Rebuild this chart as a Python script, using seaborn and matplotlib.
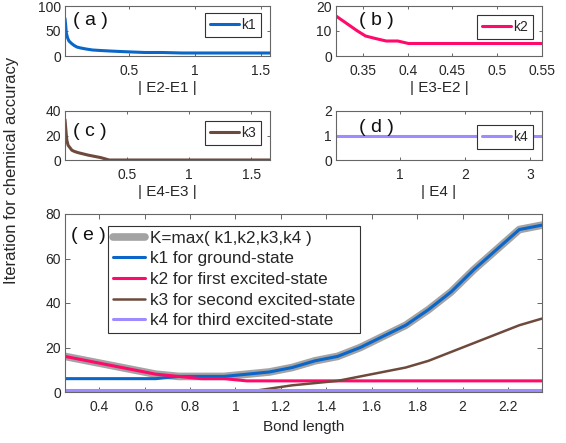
import numpy as np
import pandas as pd
import matplotlib
matplotlib.use("Agg")
import matplotlib.pyplot as plt
import seaborn as sns

# ---- panel (e): iterations versus bond length ----
bond = [0.25, 0.35, 0.45, 0.55, 0.65, 0.75, 0.85, 0.95, 1.05, 1.15, 1.25,
        1.35, 1.45, 1.55, 1.65, 1.75, 1.85, 1.95, 2.05, 2.15, 2.25, 2.35]
k1 = [6, 6, 6, 6, 6, 7, 7, 7, 8, 9, 11, 14, 16, 20, 25, 30, 37, 45, 55, 64, 73, 75]
k2 = [16, 14, 12, 10, 8, 7, 6, 6, 5, 5, 5, 5, 5, 5, 5, 5, 5, 5, 5, 5, 5, 5]
k3 = [0, 0, 0, 0, 0, 0, 0, 0, 0, 1.5, 3, 4, 5, 7, 9, 11, 14, 18, 22, 26, 30, 33]
k4 = [1] * 22
K = list(np.maximum.reduce([k1, k2, k3, k4]))

# ---- panel (a): k1 versus |E2-E1| ----
gap21 = [0.01, 0.015, 0.02, 0.03, 0.04, 0.06, 0.08, 0.10, 0.13, 0.17, 0.22,
         0.28, 0.35, 0.43, 0.52, 0.62, 0.75, 0.90, 1.10, 1.30, 1.57]
k1_gap = [75, 62, 46, 36, 30, 25, 21, 18, 16, 14, 12, 11, 10, 9, 8, 7, 7, 6, 6, 6, 6]

# ---- panel (b): k2 versus |E3-E2| ----
gap32 = [0.320, 0.328, 0.336, 0.344, 0.353, 0.364, 0.376, 0.389, 0.401, 0.45, 0.50, 0.55]
k2_gap = [16, 14, 12, 10, 8, 7, 6, 6, 5, 5, 5, 5]

# ---- panel (c): k3 versus |E4-E3| ----
gap43 = [0.005, 0.01, 0.015, 0.02, 0.03, 0.045, 0.06, 0.08, 0.11, 0.15, 0.19,
         0.24, 0.29, 0.36, 0.60, 0.90, 1.20, 1.65]
k3_gap = [33, 27, 21, 16, 12, 10, 8, 7, 6, 5, 4, 3, 2, 0, 0, 0, 0, 0]

# ---- panel (d): k4 versus |E4| ----
gap4 = [0.02, 3.18]
k4_gap = [1, 1]

C_K = "#a3a3a3"
C1 = "#0a66c8"
C2 = "#ff0a6a"
C3 = "#6e4a3c"
C4 = "#9c8cff"
EDGE = "#666666"
TXT = "#262626"

sns.set_theme(style="white", rc={
    "axes.edgecolor": EDGE,
    "axes.linewidth": 0.8,
    "xtick.color": TXT,
    "ytick.color": TXT,
    "xtick.direction": "in",
    "ytick.direction": "in",
    "xtick.top": True,
    "ytick.right": True,
    "xtick.bottom": True,
    "ytick.left": True,
    "axes.labelcolor": TXT,
    "text.color": TXT,
    "legend.edgecolor": "#333333",
    "legend.fancybox": False,
    "legend.framealpha": 1.0,
})
plt.rcParams["font.family"] = ["Liberation Sans", "DejaVu Sans"]

W, H = 566, 443
fig = plt.figure(figsize=(W / 100, H / 100), dpi=100)


def px_axes(left, top, right, bottom):
    return fig.add_axes([left / W, 1 - bottom / H, (right - left) / W, (bottom - top) / H])


def style(ax, ticklen):
    ax.tick_params(axis="both", which="both", labelsize=10, length=ticklen,
                   width=0.7, colors=EDGE, labelcolor=TXT)
    ax.tick_params(axis="x", pad=6)
    ax.tick_params(axis="y", pad=3)
    for s in ax.spines.values():
        s.set_visible(True)
        s.set_color(EDGE)


def small_legend(ax, anchor):
    leg = ax.legend(loc="upper right", bbox_to_anchor=anchor, fontsize=10,
                    handlelength=2.1, handletextpad=0.15, borderpad=0.35,
                    borderaxespad=0.0)
    leg.get_frame().set_linewidth(0.8)


PANEL_FS = 14

# (a)
ax_a = px_axes(65, 6, 270, 56)
sns.lineplot(x=gap21, y=k1_gap, ax=ax_a, color=C1, lw=2.2, label="k1")
ax_a.set_xlim(0.01, 1.57)
ax_a.set_ylim(0, 100)
ax_a.set_xticks([0.5, 1, 1.5])
ax_a.set_xticklabels(["0.5", "1", "1.5"])
ax_a.set_yticks([0, 50, 100])
ax_a.set_xlabel("| E2-E1 |", fontsize=11, labelpad=2)
style(ax_a, 2)
small_legend(ax_a, (0.955, 0.86))
ax_a.text(0.04, 0.62, "( a )", transform=ax_a.transAxes, fontsize=PANEL_FS, color="#111111")

# (b)
ax_b = px_axes(336, 6, 542, 56)
sns.lineplot(x=gap32, y=k2_gap, ax=ax_b, color=C2, lw=2.2, label="k2")
ax_b.set_xlim(0.32, 0.55)
ax_b.set_ylim(0, 20)
ax_b.set_xticks([0.35, 0.4, 0.45, 0.5, 0.55])
ax_b.set_xticklabels(["0.35", "0.4", "0.45", "0.5", "0.55"])
ax_b.set_yticks([0, 10, 20])
ax_b.set_xlabel("| E3-E2 |", fontsize=11, labelpad=2)
style(ax_b, 2)
small_legend(ax_b, (0.955, 0.82))
ax_b.text(0.11, 0.62, "( b )", transform=ax_b.transAxes, fontsize=PANEL_FS, color="#111111")

# (c)
ax_c = px_axes(65, 111, 270, 160)
sns.lineplot(x=gap43, y=k3_gap, ax=ax_c, color=C3, lw=2.2, label="k3")
ax_c.set_xlim(0.005, 1.65)
ax_c.set_ylim(0, 40)
ax_c.set_xticks([0.5, 1, 1.5])
ax_c.set_xticklabels(["0.5", "1", "1.5"])
ax_c.set_yticks([0, 20, 40])
ax_c.set_xlabel("| E4-E3 |", fontsize=11, labelpad=2)
style(ax_c, 2)
small_legend(ax_c, (0.955, 0.80))
ax_c.text(0.04, 0.50, "( c )", transform=ax_c.transAxes, fontsize=PANEL_FS, color="#111111")

# (d)
ax_d = px_axes(336, 111, 542, 160)
sns.lineplot(x=gap4, y=k4_gap, ax=ax_d, color=C4, lw=2.2, label="k4")
ax_d.set_xlim(0.02, 3.18)
ax_d.set_ylim(0, 2)
ax_d.set_xticks([1, 2, 3])
ax_d.set_yticks([0, 1, 2])
ax_d.set_xlabel("| E4 |", fontsize=11, labelpad=2)
style(ax_d, 2)
small_legend(ax_d, (0.955, 0.71))
ax_d.text(0.11, 0.58, "( d )", transform=ax_d.transAxes, fontsize=PANEL_FS, color="#111111")

# (e)
ax_e = px_axes(65, 214, 542, 392)
df = pd.DataFrame({"bond": bond, "K": K, "k1": k1, "k2": k2, "k3": k3, "k4": k4})
sns.lineplot(data=df, x="bond", y="K", ax=ax_e, color=C_K, lw=5.5,
             label="K=max( k1,k2,k3,k4 )")
sns.lineplot(data=df, x="bond", y="k1", ax=ax_e, color=C1, lw=2.2,
             label="k1 for ground-state")
sns.lineplot(data=df, x="bond", y="k2", ax=ax_e, color=C2, lw=2.2,
             label="k2 for first excited-state")
sns.lineplot(data=df, x="bond", y="k3", ax=ax_e, color=C3, lw=1.8,
             label="k3 for second excited-state")
sns.lineplot(data=df, x="bond", y="k4", ax=ax_e, color=C4, lw=2.2,
             label="k4 for third excited-state")
ax_e.set_xlim(0.25, 2.35)
ax_e.set_ylim(0, 80)
ax_e.set_xticks([0.4, 0.6, 0.8, 1.0, 1.2, 1.4, 1.6, 1.8, 2.0, 2.2])
ax_e.set_xticklabels(["0.4", "0.6", "0.8", "1", "1.2", "1.4", "1.6", "1.8", "2", "2.2"])
ax_e.set_yticks([0, 20, 40, 60, 80])
ax_e.set_xlabel("Bond length", fontsize=11, labelpad=4)
ax_e.set_ylabel("")
style(ax_e, 3.5)
leg = ax_e.legend(loc="upper left", bbox_to_anchor=(0.09, 0.935), fontsize=12.3,
                  handlelength=1.85, handletextpad=0.3, borderpad=0.3,
                  labelspacing=0.33, borderaxespad=0.0)
leg.get_frame().set_linewidth(0.8)
ax_e.text(0.012, 0.855, "( e )", transform=ax_e.transAxes, fontsize=PANEL_FS, color="#111111")

for ax in (ax_a, ax_b, ax_c, ax_d):
    ax.set_ylabel("")

fig.text(0.021, 0.615, "Iteration for chemical accuracy", rotation=90,
         ha="center", va="center", fontsize=12, color=TXT)

fig.savefig("out.png", dpi=100)
